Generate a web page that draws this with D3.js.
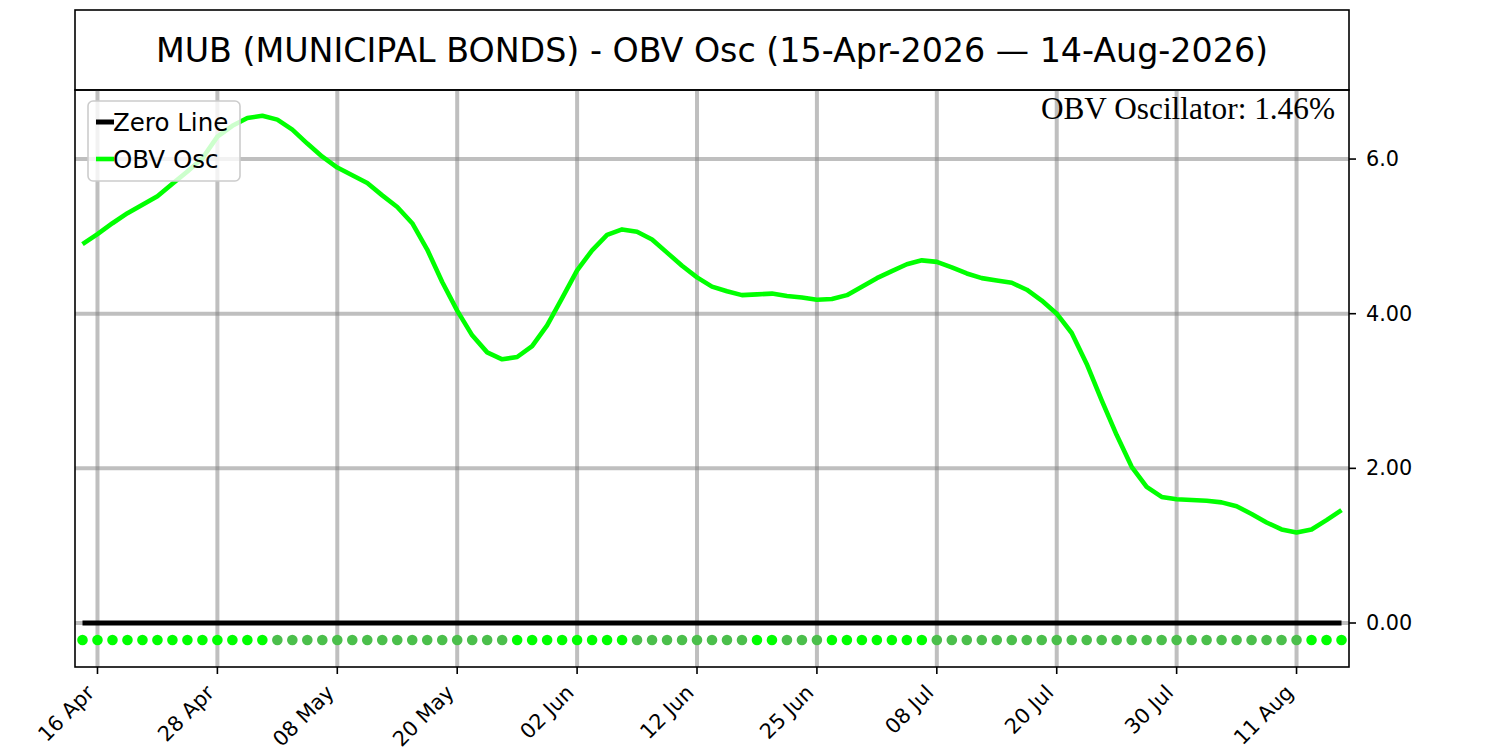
<!DOCTYPE html>
<html>
<head>
<meta charset="utf-8">
<script src="https://cdn.jsdelivr.net/npm/d3@7"></script>
<style>
  html, body { margin: 0; padding: 0; background: #ffffff; }
  svg { display: block; }
</style>
</head>
<body>
<svg id="chart" width="1500" height="750"></svg>
<script>
// ---- data ----
const titleText = "MUB (MUNICIPAL BONDS) - OBV Osc (15-Apr-2026 \u2014 14-Aug-2026)";
const dates = [
  "15 Apr","16 Apr","17 Apr","20 Apr","21 Apr","22 Apr","23 Apr","24 Apr","27 Apr","28 Apr","29 Apr","30 Apr",
  "01 May","04 May","05 May","06 May","07 May","08 May","11 May","12 May","13 May","14 May","15 May",
  "18 May","19 May","20 May","21 May","22 May","26 May","27 May","28 May","29 May",
  "01 Jun","02 Jun","03 Jun","04 Jun","05 Jun","08 Jun","09 Jun","10 Jun","11 Jun","12 Jun",
  "15 Jun","16 Jun","17 Jun","18 Jun","22 Jun","23 Jun","24 Jun","25 Jun","26 Jun","29 Jun","30 Jun",
  "01 Jul","02 Jul","06 Jul","07 Jul","08 Jul","09 Jul","10 Jul","13 Jul","14 Jul","15 Jul","16 Jul","17 Jul",
  "20 Jul","21 Jul","22 Jul","23 Jul","24 Jul","27 Jul","28 Jul","29 Jul","30 Jul","31 Jul",
  "03 Aug","04 Aug","05 Aug","06 Aug","07 Aug","10 Aug","11 Aug","12 Aug","13 Aug","14 Aug"
];
const obvOsc = [
  4.90, 5.03, 5.17, 5.30, 5.41, 5.52, 5.68, 5.84, 6.01, 6.29, 6.43, 6.53, 6.56,
  6.51, 6.38, 6.20, 6.03, 5.89, 5.79, 5.69, 5.53, 5.38, 5.17, 4.83, 4.41, 4.04, 3.72, 3.50, 3.41,
  3.44, 3.58, 3.85, 4.20, 4.56, 4.82, 5.02, 5.09,
  5.06, 4.96, 4.79, 4.62, 4.47, 4.35, 4.29, 4.24,
  4.25, 4.26,
  4.23, 4.21, 4.18,
  4.19, 4.24, 4.35, 4.46, 4.55, 4.64, 4.69,
  4.67, 4.60, 4.52, 4.46, 4.43, 4.40, 4.31, 4.17, 4.00, 3.75, 3.35, 2.88, 2.43, 2.02, 1.76, 1.63,
  1.60, 1.59, 1.58, 1.56, 1.51, 1.41, 1.30, 1.21, 1.17,
  1.21, 1.33, 1.46
];
const zeroLine = 0;
const dotLevel = -0.22;
const xTickLabels = ["16 Apr","28 Apr","08 May","20 May","02 Jun","12 Jun","25 Jun","08 Jul","20 Jul","30 Jul","11 Aug"];
const yTickValues = [0, 2, 4, 6];
const yTickLabels = ["0.00", "2.00", "4.00", "6.0"];
const annotationText = "OBV Oscillator: 1.46%";
const legendLabels = ["Zero Line", "OBV Osc"];

// ---- layout ----
const svg = d3.select("#chart");
const L = 75, R = 1349, T = 90, B = 667;
const lime = "#00ff00", muted = "#4bbf4b";

const x = d3.scaleLinear().domain([-0.5, dates.length - 0.5]).range([L, R]);
const y = d3.scaleLinear().domain([-0.569, 6.893]).range([B, T]);

// title box
svg.append("rect").attr("x", L).attr("y", 10).attr("width", R - L).attr("height", T - 10)
  .attr("fill", "#fff").attr("stroke", "#000").attr("stroke-width", 1.6);
svg.append("text").attr("x", (L + R) / 2).attr("y", 50)
  .attr("text-anchor", "middle").attr("dominant-baseline", "central")
  .attr("font-family", "DejaVu Sans").attr("font-size", 33.3).attr("fill", "#000")
  .text(titleText);

const plot = svg.append("g");
plot.append("defs").append("clipPath").attr("id", "clip")
  .append("rect").attr("x", L).attr("y", T).attr("width", R - L).attr("height", B - T);

// grid
const tickIdx = xTickLabels.map(l => dates.indexOf(l));
const grid = plot.append("g").attr("clip-path", "url(#clip)");
grid.selectAll("line.vx").data(tickIdx).join("line")
  .attr("x1", d => x(d)).attr("x2", d => x(d)).attr("y1", T).attr("y2", B)
  .attr("stroke", "#808080").attr("stroke-opacity", 0.5).attr("stroke-width", 4);
grid.selectAll("line.hy").data(yTickValues).join("line")
  .attr("x1", L).attr("x2", R).attr("y1", d => y(d)).attr("y2", d => y(d))
  .attr("stroke", "#808080").attr("stroke-opacity", 0.5).attr("stroke-width", 4);

// zero line
plot.append("line").attr("x1", x(0)).attr("x2", x(dates.length - 1))
  .attr("y1", y(zeroLine)).attr("y2", y(zeroLine))
  .attr("stroke", "#000").attr("stroke-width", 5);

// dots
plot.selectAll("circle.dot").data(obvOsc).join("circle")
  .attr("cx", (d, i) => x(i)).attr("cy", y(dotLevel)).attr("r", 5.3)
  .attr("fill", (d, i) => (i === 0 || d >= obvOsc[i - 1]) ? lime : muted);

// OBV line
plot.append("path").datum(obvOsc)
  .attr("d", d3.line().x((d, i) => x(i)).y(d => y(d)))
  .attr("fill", "none").attr("stroke", lime).attr("stroke-width", 4.6)
  .attr("stroke-linejoin", "round").attr("stroke-linecap", "butt");

// frame
svg.append("rect").attr("x", L).attr("y", T).attr("width", R - L).attr("height", B - T)
  .attr("fill", "none").attr("stroke", "#000").attr("stroke-width", 1.6);

// right axis
const yAxis = svg.append("g");
yAxis.selectAll("line").data(yTickValues).join("line")
  .attr("x1", R).attr("x2", R + 7).attr("y1", d => y(d)).attr("y2", d => y(d))
  .attr("stroke", "#000").attr("stroke-width", 1.6);
yAxis.selectAll("text").data(yTickValues).join("text")
  .attr("x", R + 17).attr("y", d => y(d)).attr("dominant-baseline", "central")
  .attr("font-family", "DejaVu Sans").attr("font-size", 20.8).attr("fill", "#000")
  .text((d, i) => yTickLabels[i]);

// bottom axis
const xAxis = svg.append("g");
xAxis.selectAll("line").data(tickIdx).join("line")
  .attr("x1", d => x(d)).attr("x2", d => x(d)).attr("y1", B).attr("y2", B + 7)
  .attr("stroke", "#000").attr("stroke-width", 1.6);
xAxis.selectAll("text").data(tickIdx).join("text")
  .attr("transform", d => `translate(${x(d) - 2},${B + 27}) rotate(-45)`)
  .attr("text-anchor", "end")
  .attr("font-family", "DejaVu Sans").attr("font-size", 20.8).attr("fill", "#000")
  .text((d, i) => xTickLabels[i]);

// annotation
svg.append("text").attr("x", 1335).attr("y", 119).attr("text-anchor", "end")
  .attr("font-family", "Liberation Serif, Times New Roman, serif").attr("font-size", 31.3).attr("fill", "#000")
  .text(annotationText);

// legend
const lg = svg.append("g");
lg.append("rect").attr("x", 88).attr("y", 101).attr("width", 152).attr("height", 80).attr("rx", 5)
  .attr("fill", "#fff").attr("fill-opacity", 0.8).attr("stroke", "#cccccc").attr("stroke-width", 1.6);
const legendColors = ["#000", lime];
const legendWidths = [5, 4.6];
const rowsY = [122, 159];
legendLabels.forEach((lab, i) => {
  lg.append("line").attr("x1", 96).attr("x2", 114).attr("y1", rowsY[i]).attr("y2", rowsY[i])
    .attr("stroke", legendColors[i]).attr("stroke-width", legendWidths[i]);
  lg.append("text").attr("x", 113).attr("y", rowsY[i]).attr("dominant-baseline", "central")
    .attr("font-family", "DejaVu Sans").attr("font-size", 24.5).attr("fill", "#000")
    .text(lab);
});
</script>
</body>
</html>
